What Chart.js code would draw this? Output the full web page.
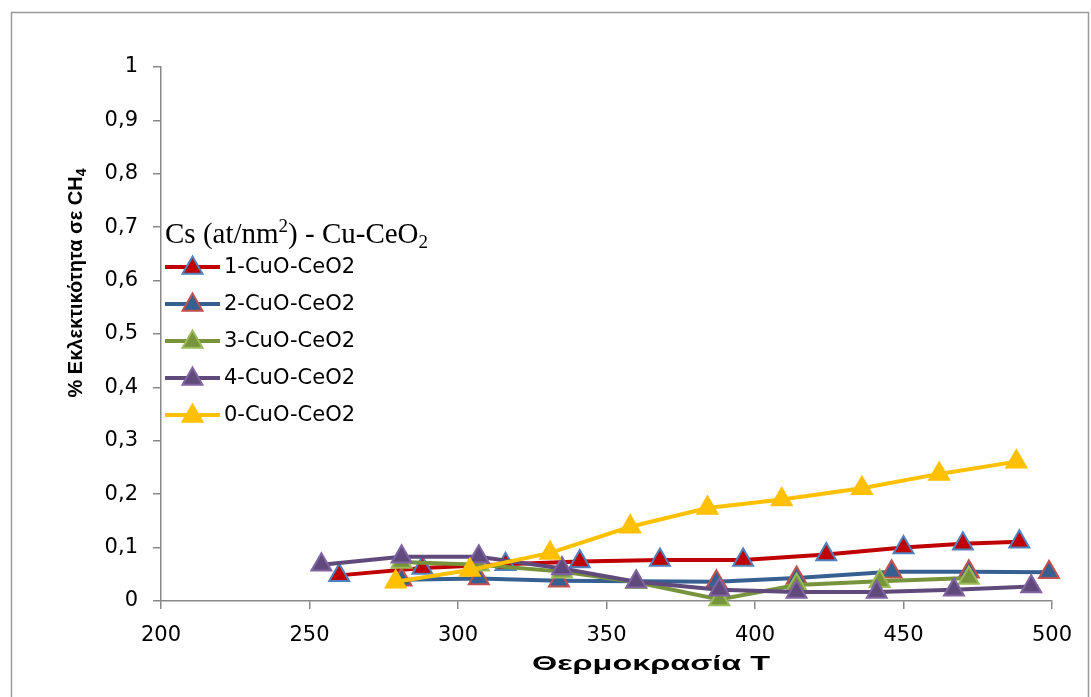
<!DOCTYPE html>
<html>
<head>
<meta charset="utf-8">
<script src="https://cdn.jsdelivr.net/npm/chart.js@4.4.1/dist/chart.umd.min.js"></script>
<style>
  html, body { margin: 0; padding: 0; background: #fff; }
  #wrap { width: 1091px; height: 697px; position: relative; }
</style>
</head>
<body>
<div id="wrap"><canvas id="chart"></canvas></div>
<script>
// Temperature (x) and CH4 selectivity (y) per catalyst
const temp1 = [260, 288, 316, 341, 368, 396, 424, 450, 470, 489]
const sel1 = [0.048, 0.062, 0.069, 0.074, 0.077, 0.077, 0.087, 0.100, 0.107, 0.111]

const temp2 = [281, 307, 334, 387, 414, 446, 472, 499]
const sel2 = [0.040, 0.042, 0.038, 0.036, 0.043, 0.055, 0.055, 0.054]

const temp3 = [281, 307, 335, 360, 388, 414, 442, 472]
const sel3 = [0.073, 0.068, 0.055, 0.035, 0.003, 0.030, 0.037, 0.043]

const temp4 = [254, 281, 307, 335, 360, 388, 414, 441, 467, 493]
const sel4 = [0.068, 0.083, 0.083, 0.061, 0.036, 0.021, 0.017, 0.017, 0.021, 0.027]

const temp0 = [279, 304, 331, 358, 384, 409, 436, 462, 488]
const sel0 = [0.036, 0.058, 0.090, 0.139, 0.174, 0.190, 0.211, 0.238, 0.261]

const seriesNames = ['1-CuO-CeO2', '2-CuO-CeO2', '3-CuO-CeO2', '4-CuO-CeO2', '0-CuO-CeO2']
const xTitle = 'Θερμοκρασία T'
const yTitle = '% Εκλεκτικότητα σε CH'
const legendTitle = ['Cs (at/nm', '2', ') - Cu-CeO', '2']

const AXIS = '#898989'
const TICK_FONT = { family: 'DejaVu Sans', size: 21 }

const pts = (xs, ys) => xs.map((x, i) => ({ x, y: ys[i] }))

function series(label, data, line, fill, edge, order) {
  return {
    label,
    data,
    order,
    borderColor: line,
    borderWidth: 4,
    backgroundColor: fill,
    pointStyle: 'triangle',
    pointRadius: 11.5,
    pointHoverRadius: 11.5,
    pointBackgroundColor: fill,
    pointBorderColor: edge,
    pointBorderWidth: 2,
    tension: 0,
    clip: false,
  }
}

const datasets = [
  series(seriesNames[0], pts(temp1, sel1), '#C00000', '#C00000', '#4F81BD', 4),
  series(seriesNames[1], pts(temp2, sel2), '#376092', '#376092', '#C0504D', 3),
  series(seriesNames[2], pts(temp3, sel3), '#77933C', '#77933C', '#9BBB59', 2),
  series(seriesNames[3], pts(temp4, sel4), '#604A7B', '#604A7B', '#8064A2', 1),
  series(seriesNames[4], pts(temp0, sel0), '#FFC000', '#FFC000', '#FFC000', 0),
]

function triangle(ctx, cx, cy, r) {
  ctx.beginPath()
  for (let k = 0; k < 3; k++) {
    const a = k * 2 * Math.PI / 3
    const px = cx + Math.sin(a) * r
    const py = cy - Math.cos(a) * r
    if (k === 0) ctx.moveTo(px, py); else ctx.lineTo(px, py)
  }
  ctx.closePath()
}

// frame, axis titles and the in-plot legend
const decorations = {
  id: 'decorations',
  beforeDraw(chart) {
    const ctx = chart.ctx
    ctx.save()
    ctx.strokeStyle = '#9a9a9a'
    ctx.lineWidth = 1.5
    ctx.strokeRect(11.5, 12.5, 1077, 700)
    ctx.restore()
  },
  afterDraw(chart) {
    const ctx = chart.ctx
    ctx.save()
    ctx.fillStyle = '#000'

    // x title, widened like the stretched original
    ctx.font = 'bold 21px "Liberation Sans"'
    ctx.textAlign = 'center'
    ctx.textBaseline = 'middle'
    const w = ctx.measureText(xTitle).width
    ctx.save()
    ctx.translate(651, 664)
    ctx.scale(238 / w, 1)
    ctx.fillText(xTitle, 0, 0)
    ctx.restore()

    // y title with subscript 4
    ctx.translate(75, 283)
    ctx.rotate(-Math.PI / 2)
    ctx.font = 'bold 20px "Liberation Sans"'
    const main = ctx.measureText(yTitle).width
    ctx.font = 'bold 14px "Liberation Sans"'
    const sub = ctx.measureText('4').width
    const x0 = -(main + sub) / 2
    ctx.textAlign = 'left'
    ctx.textBaseline = 'alphabetic'
    ctx.font = 'bold 20px "Liberation Sans"'
    ctx.fillText(yTitle, x0, 7)
    ctx.font = 'bold 14px "Liberation Sans"'
    ctx.fillText('4', x0 + main, 11)
    ctx.restore()

    // legend title
    ctx.save()
    ctx.fillStyle = '#000'
    ctx.textAlign = 'left'
    ctx.textBaseline = 'alphabetic'
    let x = 165
    const base = 243
    ctx.font = '29px "Liberation Serif"'
    ctx.fillText(legendTitle[0], x, base)
    x += ctx.measureText(legendTitle[0]).width
    ctx.font = '19px "Liberation Serif"'
    ctx.fillText(legendTitle[1], x, base - 11)
    x += ctx.measureText(legendTitle[1]).width
    ctx.font = '29px "Liberation Serif"'
    ctx.fillText(legendTitle[2], x, base)
    x += ctx.measureText(legendTitle[2]).width
    ctx.font = '19px "Liberation Serif"'
    ctx.fillText(legendTitle[3], x, base + 5)

    // legend entries
    ctx.font = '21px "DejaVu Sans"'
    ctx.textBaseline = 'middle'
    chart.data.datasets.forEach((ds, i) => {
      const y = 267 + i * 37
      ctx.strokeStyle = ds.borderColor
      ctx.lineWidth = 4
      ctx.beginPath()
      ctx.moveTo(165, y)
      ctx.lineTo(220, y)
      ctx.stroke()
      ctx.fillStyle = ds.pointBackgroundColor
      ctx.strokeStyle = ds.pointBorderColor
      ctx.lineWidth = 2
      triangle(ctx, 192.5, y + 1, 11.5)
      ctx.fill()
      ctx.stroke()
      ctx.fillStyle = '#000'
      ctx.fillText(ds.label, 224, y + 1)
    })
    ctx.restore()
  },
}

new Chart(document.getElementById('chart'), {
  type: 'line',
  data: { datasets },
  options: {
    responsive: true,
    maintainAspectRatio: false,
    animation: false,
    devicePixelRatio: 1,
    layout: { padding: { left: 0, right: 39, top: 67, bottom: 0 } },
    plugins: {
      legend: { display: false },
      tooltip: { enabled: false },
    },
    scales: {
      x: {
        type: 'linear',
        min: 200,
        max: 500,
        afterFit: s => { s.height = 96 },
        ticks: { stepSize: 50, color: '#000', font: TICK_FONT, padding: 14, maxRotation: 0 },
        grid: { drawOnChartArea: false, drawTicks: true, tickLength: 8, color: AXIS, lineWidth: 1.5 },
        border: { color: AXIS, width: 1.5 },
      },
      y: {
        min: 0,
        max: 1,
        afterFit: s => { s.width = 161 },
        ticks: {
          stepSize: 0.1,
          color: '#000',
          font: TICK_FONT,
          padding: 15,
          callback: v => String(+v.toFixed(1)).replace('.', ','),
        },
        grid: { drawOnChartArea: false, drawTicks: true, tickLength: 8, color: AXIS, lineWidth: 1.5 },
        border: { color: AXIS, width: 1.5 },
      },
    },
  },
  plugins: [decorations],
})
</script>
</body>
</html>
